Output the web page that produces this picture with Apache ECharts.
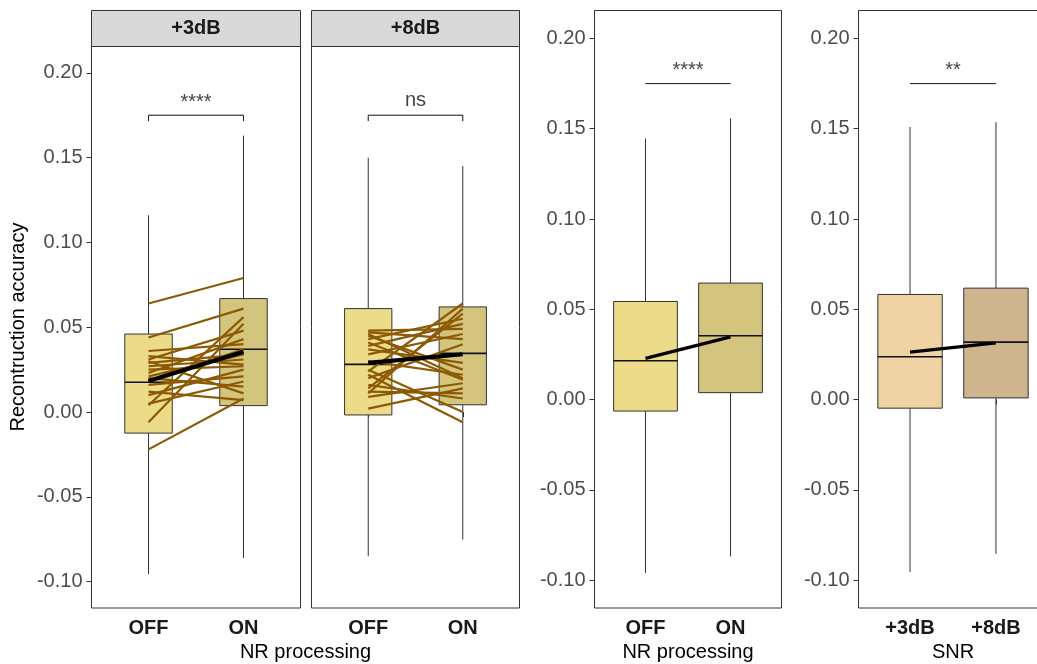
<!DOCTYPE html>
<html>
<head>
<meta charset="utf-8">
<script src="https://cdn.jsdelivr.net/npm/echarts@6/dist/echarts.min.js"></script>
<style>
html,body{margin:0;padding:0;background:#fff;}
#chart{width:1037px;height:664px;}
</style>
</head>
<body>
<div id="chart"></div>
<script>
// ---------------- DATA ----------------
const catsNR = ['OFF', 'ON'];
const catsSNR = ['+3dB', '+8dB'];
const facetLabels = ['+3dB', '+8dB'];
const yTicks = [-0.10, -0.05, 0.00, 0.05, 0.10, 0.15, 0.20];

// box stats: [min, q1, median, q3, max]
const box3dB_OFF = [-0.0956, -0.0124, 0.0176, 0.0460, 0.1160];
const box3dB_ON  = [-0.0860, 0.0038, 0.0370, 0.0669, 0.1630];
const box8dB_OFF = [-0.0850, -0.0017, 0.0281, 0.0610, 0.1500];
const box8dB_ON  = [-0.0752, 0.0043, 0.0346, 0.0620, 0.1450];
const boxNR_OFF  = [-0.0960, -0.0064, 0.0215, 0.0543, 0.1446];
const boxNR_ON   = [-0.0869, 0.0038, 0.0353, 0.0645, 0.1558];
const boxSNR_3   = [-0.0956, -0.0048, 0.0237, 0.0582, 0.1510];
const boxSNR_8   = [-0.0855, 0.0009, 0.0318, 0.0617, 0.1537];

// mean lines [first, second]
const mean3dB = [0.0183, 0.0355];
const mean8dB = [0.0290, 0.0341];
const meanNR  = [0.0228, 0.0347];
const meanSNR = [0.0262, 0.0314];

// individual participant lines
const subj3dB_OFF = [0.064, 0.044, 0.036, 0.031, 0.029, 0.027, 0.025, 0.023, 0.020, 0.018, 0.016, 0.010, 0.005, 0.004, -0.006, -0.022, 0.030, 0.021, 0.012, 0.033];
const subj3dB_ON  = [0.079, 0.061, 0.040, 0.048, 0.034, 0.031, 0.027, 0.043, 0.015, 0.037, 0.021, 0.025, 0.018, 0.056, 0.052, 0.008, 0.011, 0.034, 0.007, 0.028];
const subj8dB_OFF = [0.048, 0.047, 0.045, 0.043, 0.041, 0.039, 0.037, 0.034, 0.024, 0.022, 0.025, 0.014, 0.011, 0.009, 0.002, 0.030, 0.012, 0.020, 0.046, 0.016];
const subj8dB_ON  = [0.049, 0.043, 0.025, 0.055, 0.019, 0.052, 0.029, 0.046, 0.064, -0.006, -0.000, 0.058, 0.061, 0.017, 0.014, 0.022, 0.011, 0.040, 0.020, 0.008];

// significance
const sigLabels = ['****', 'ns', '****', '**'];
const sigY = 0.175;
const sigTickY = 0.1715;

// ---------------- STYLE ----------------
const FONT = 'Liberation Sans, Arial, sans-serif';
const fillNR = ['#ECDB89', '#D4C57E'];
const fillSNR = ['#EFD3A4', '#CEB58E'];
const pairColor = '#8C5A04';
const yMin = -0.1155, yMax = 0.2155;

const grids = [
  {left: 91.5, top: 46.5, width: 209, height: 561.5},
  {left: 311.5, top: 46.5, width: 208, height: 561.5},
  {left: 594.5, top: 10.5, width: 187, height: 597.5},
  {left: 858.5, top: 10.5, width: 189, height: 597.5}
];

function makeBoxRender(widthUnits, fills) {
  return function (params, api) {
    const x = api.value(0);
    const pMin = api.coord([x, api.value(1)]);
    const pQ1 = api.coord([x, api.value(2)]);
    const pMed = api.coord([x, api.value(3)]);
    const pQ3 = api.coord([x, api.value(4)]);
    const pMax = api.coord([x, api.value(5)]);
    const hw = api.size([widthUnits, 0])[0] / 2;
    const cx = pMed[0];
    return {
      type: 'group',
      children: [
        {type: 'line', shape: {x1: cx, y1: pMax[1], x2: cx, y2: pQ3[1]}, style: {stroke: '#333', lineWidth: 1}},
        {type: 'line', shape: {x1: cx, y1: pQ1[1], x2: cx, y2: pMin[1]}, style: {stroke: '#333', lineWidth: 1}},
        {type: 'rect', shape: {x: cx - hw, y: pQ3[1], width: 2 * hw, height: pQ1[1] - pQ3[1]},
          style: {fill: fills[params.dataIndex], stroke: '#333', lineWidth: 1}},
        {type: 'line', shape: {x1: cx - hw, y1: pMed[1], x2: cx + hw, y2: pMed[1]}, style: {stroke: '#111', lineWidth: 1.6}}
      ]
    };
  };
}

function xAxisFor(i, cats) {
  return {
    gridIndex: i, type: 'value', min: 0.4, max: 2.6,
    axisLine: {show: false}, splitLine: {show: false},
    axisTick: {show: true, customValues: [1, 2], length: 5, lineStyle: {color: '#333', width: 1}},
    axisLabel: {show: true, customValues: [1, 2], formatter: v => cats[Math.round(v) - 1],
      fontFamily: FONT, fontSize: 20, fontWeight: 'bold', color: '#1a1a1a', margin: 10}
  };
}
function yAxisFor(i, showLabels) {
  return {
    gridIndex: i, type: 'value', min: yMin, max: yMax,
    axisLine: {show: false}, splitLine: {show: false},
    axisTick: {show: showLabels, customValues: yTicks, length: 5, lineStyle: {color: '#333', width: 1}},
    axisLabel: {show: showLabels, customValues: yTicks, formatter: v => v.toFixed(2),
      fontFamily: FONT, fontSize: 20, color: '#4D4D4D', margin: 9}
  };
}

const series = [];
function addPanel(i, boxes, fills, widthUnits, mean, subjOff, subjOn, sigText, withTicks) {
  series.push({
    type: 'custom', xAxisIndex: i, yAxisIndex: i, z: 1,
    renderItem: makeBoxRender(widthUnits, fills),
    encode: {x: 0, y: [1, 2, 3, 4, 5]},
    data: boxes.map((b, k) => [k + 1].concat(b))
  });
  if (subjOff) {
    subjOff.forEach((v, k) => {
      series.push({
        type: 'line', xAxisIndex: i, yAxisIndex: i, z: 2, symbol: 'none',
        lineStyle: {color: pairColor, width: 2.2},
        data: [[1, v], [2, subjOn[k]]]
      });
    });
  }
  series.push({
    type: 'line', xAxisIndex: i, yAxisIndex: i, z: 3, symbol: 'none',
    lineStyle: {color: '#000', width: withTicks ? 4.2 : 3.2},
    data: [[1, mean[0]], [2, mean[1]]]
  });
  const bracket = withTicks
    ? [[1, sigTickY], [1, sigY], [2, sigY], [2, sigTickY]]
    : [[1, sigY], [2, sigY]];
  series.push({
    type: 'line', xAxisIndex: i, yAxisIndex: i, z: 3, symbol: 'none',
    lineStyle: {color: '#111', width: 1},
    data: bracket
  });
  series.push({
    type: 'scatter', xAxisIndex: i, yAxisIndex: i, z: 4, symbolSize: 0.1,
    itemStyle: {color: 'transparent'},
    label: {show: true, position: 'top', distance: sigText === 'ns' ? 5 : 3,
      formatter: sigText, fontFamily: FONT, fontSize: 20, color: '#111'},
    data: [[1.5, sigY]]
  });
}

addPanel(0, [box3dB_OFF, box3dB_ON], fillNR, 0.5, mean3dB, subj3dB_OFF, subj3dB_ON, sigLabels[0], true);
addPanel(1, [box8dB_OFF, box8dB_ON], fillNR, 0.5, mean8dB, subj8dB_OFF, subj8dB_ON, sigLabels[1], true);
addPanel(2, [boxNR_OFF, boxNR_ON], fillNR, 0.75, meanNR, null, null, sigLabels[2], false);
addPanel(3, [boxSNR_3, boxSNR_8], fillSNR, 0.75, meanSNR, null, null, sigLabels[3], false);

const graphics = [];
[0, 1].forEach(i => {
  const g = grids[i];
  graphics.push({type: 'rect', shape: {x: g.left, y: 10.5, width: g.width, height: g.top - 10.5},
    style: {fill: '#D9D9D9', stroke: '#333', lineWidth: 1}, z: 10});
  graphics.push({type: 'text', x: g.left + g.width / 2, y: (10.5 + g.top) / 2,
    style: {text: facetLabels[i], font: 'bold 20px ' + FONT, fill: '#1a1a1a', textAlign: 'center', textVerticalAlign: 'middle'}, z: 11});
});
graphics.push({type: 'text', x: (grids[0].left + grids[1].left + grids[1].width) / 2, y: 652,
  style: {text: 'NR processing', font: '20px ' + FONT, fill: '#000', textAlign: 'center', textVerticalAlign: 'middle'}});
graphics.push({type: 'text', x: grids[2].left + grids[2].width / 2, y: 652,
  style: {text: 'NR processing', font: '20px ' + FONT, fill: '#000', textAlign: 'center', textVerticalAlign: 'middle'}});
graphics.push({type: 'text', x: grids[3].left + grids[3].width / 2, y: 652,
  style: {text: 'SNR', font: '20px ' + FONT, fill: '#000', textAlign: 'center', textVerticalAlign: 'middle'}});
graphics.push({type: 'text', x: 18, y: 327, rotation: Math.PI / 2,
  style: {text: 'Recontruction accuracy', font: '20px ' + FONT, fill: '#000', textAlign: 'center', textVerticalAlign: 'middle'}});

const chart = echarts.init(document.getElementById('chart'), null, {renderer: 'canvas'});
chart.setOption({
  animation: false,
  backgroundColor: '#fff',
  grid: grids.map(g => Object.assign({show: true, borderColor: '#333', borderWidth: 1,
    backgroundColor: 'transparent', containLabel: false, outerBoundsMode: 'none'}, g)),
  xAxis: [xAxisFor(0, catsNR), xAxisFor(1, catsNR), xAxisFor(2, catsNR), xAxisFor(3, catsSNR)],
  yAxis: [yAxisFor(0, true), yAxisFor(1, false), yAxisFor(2, true), yAxisFor(3, true)],
  series: series,
  graphic: graphics
});
</script>
</body>
</html>
